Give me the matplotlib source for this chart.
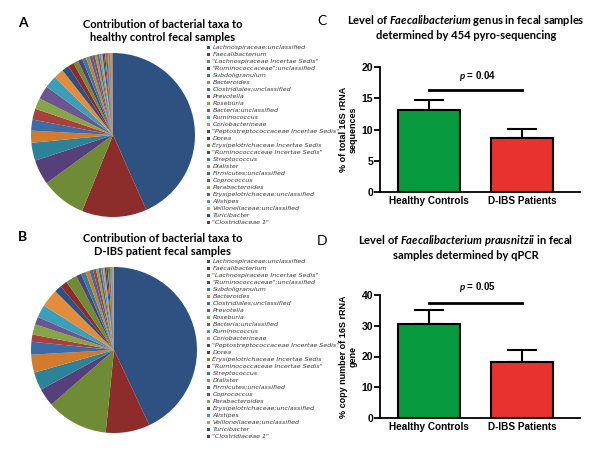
import matplotlib
matplotlib.use("Agg")
import matplotlib.pyplot as plt
from matplotlib.patches import Rectangle

# ---- data ----
taxa = [
    'Lachnospiraceae;unclassified', 'Faecalibacterium',
    '"Lachnospiraceae Incertae Sedis"', '"Ruminococcaceae";unclassified',
    'Subdoligranulum', 'Bacteroides', 'Clostridiales;unclassified',
    'Prevotella', 'Roseburia', 'Bacteria;unclassified', 'Ruminococcus',
    'Coriobacterineae', '"Peptostreptococcaceae Incertae Sedis"', 'Dorea',
    'Erysipelotrichaceae Incertae Sedis', '"Ruminococcaceae Incertae Sedis"',
    'Streptococcus', 'Dialister', 'Firmicutes;unclassified', 'Coprococcus',
    'Parabacteroides', 'Erysipelotrichaceae;unclassified', 'Alistipes',
    'Veillonellaceae;unclassified', 'Turicibacter', '"Clostridiaceae 1"',
]
# named taxa, then the unlabeled minor taxa in the thin slices
healthy_pct = [44.0, 13.0, 9.0, 5.0, 3.6, 2.4, 2.2, 2.2, 2.2, 2.7, 2.5, 2.0,
               1.4, 1.2, 1.0, 0.9, 0.8, 0.7, 0.6, 0.5, 0.45, 0.4, 0.35, 0.3,
               0.3, 0.25,
               0.2, 0.2, 0.18, 0.16, 0.15, 0.14, 0.12, 0.1, 0.1, 0.08, 0.08, 0.06]
dibs_pct = [43.0, 8.6, 12.0, 3.5, 3.5, 3.5, 2.5, 1.4, 2.0, 1.5, 2.5, 3.5,
            1.4, 1.4, 2.2, 1.0, 0.9, 0.8, 0.7, 0.6, 0.5, 0.45, 0.4, 0.35,
            0.3, 0.3,
            0.2, 0.18, 0.16, 0.15, 0.12, 0.1, 0.1, 0.08, 0.06, 0.05]

groups = ['Healthy Controls', 'D-IBS Patients']
pyro_mean = [13.2, 8.6]
pyro_err = [1.5, 1.5]
qpcr_mean = [30.5, 18.2]
qpcr_err = [4.7, 3.8]

palette = ['#2E5182', '#8C2D2B', '#6F8B35', '#55407A', '#2C8299', '#D27A2E',
           '#3C6CA6', '#A8403C', '#87A546', '#6B5690', '#3C9EB8', '#E38C3C']

plt.rcParams['font.family'] = ['Lato', 'DejaVu Sans']
plt.rcParams['mathtext.fontset'] = 'custom'
plt.rcParams['mathtext.rm'] = 'Lato:bold'
plt.rcParams['mathtext.it'] = 'Lato:bold:italic'

fig = plt.figure(figsize=(6, 4.59), dpi=100)
W, H = 600.0, 459.0


def px_axes(x0, y0, x1, y1):
    return fig.add_axes([x0 / W, 1 - y1 / H, (x1 - x0) / W, (y1 - y0) / H])


def pie_panel(cx, cy, r, vals, title, letter, ly):
    ax = px_axes(cx - r, cy - r, cx + r, cy + r)
    cols = [palette[i % len(palette)] for i in range(len(vals))]
    wedges, _ = ax.pie(vals, colors=cols, startangle=90, counterclock=False,
                       wedgeprops=dict(linewidth=0))
    ax.set_xlim(-1, 1)
    ax.set_ylim(-1, 1)
    fig.text(163 / W, 1 - (cy - r - 22) / H, title, ha='center', va='center',
             fontsize=8, fontweight='bold', linespacing=1.25)
    fig.text(18 / W, 1 - (cy - r - 30) / H, letter, ha='left', va='center',
             fontsize=10, fontweight='bold')
    # legend: one row per named taxon, 7 px apart
    for i, name in enumerate(taxa):
        yc = ly + 7.0 * i
        fig.patches.append(Rectangle((207 / W, 1 - (yc + 1.6) / H),
                                     3.2 / W, 3.2 / H,
                                     facecolor=wedges[i].get_facecolor(),
                                     transform=fig.transFigure, lw=0))
        fig.text(212.5 / W, 1 - yc / H, name, ha='left', va='center',
                 fontsize=4.6, style='italic', family='DejaVu Sans',
                 color='#3a3a3a')


pie_panel(113, 135, 82, healthy_pct,
          'Contribution of bacterial taxa to\nhealthy control fecal samples',
          'A', 47.5)
pie_panel(114, 350, 83, dibs_pct,
          'Contribution of bacterial taxa to\nD-IBS patient fecal samples',
          'B', 261.5)


def bar_panel(y0, y1, means, errs, ymax, step, ylabel, sig_y, p_y, p_txt,
              title, letter, ty):
    ax = px_axes(380, y0, 580, y1)
    xs = range(len(groups))
    ax.bar(xs, means, width=0.667, color=['#079A3F', '#E8322E'],
           edgecolor='black', linewidth=1.5, zorder=2)
    ax.errorbar(xs, means, yerr=[[0, 0], errs], fmt='none', ecolor='black',
                elinewidth=1.5, capsize=10.5, capthick=1.5, zorder=1)
    ax.set_xlim(-0.53, 1.62)
    ax.set_ylim(0, ymax)
    ax.set_yticks(range(0, ymax + 1, step))
    ax.set_xticks(list(xs))
    ax.set_xticklabels(groups)
    for s in ['top', 'right']:
        ax.spines[s].set_visible(False)
    for s in ['left', 'bottom']:
        ax.spines[s].set_linewidth(1.3)
    ax.tick_params(axis='y', length=4, width=1.3, direction='out', pad=1)
    ax.tick_params(axis='x', length=0, pad=3)
    for lab in ax.get_yticklabels() + ax.get_xticklabels():
        lab.set_family('Liberation Sans')
        lab.set_fontweight('bold')
    for lab in ax.get_yticklabels():
        lab.set_fontsize(7.5)
    for lab in ax.get_xticklabels():
        lab.set_fontsize(7.2)
    ax.set_ylabel(ylabel, family='Liberation Sans', fontweight='bold',
                  fontsize=6.5, linespacing=1.1, labelpad=3)
    ax.plot([0, 1], [sig_y, sig_y], color='black', linewidth=2,
            clip_on=False)
    ax.text(0.52, p_y, p_txt, ha='center', va='center', fontsize=7,
            family='Liberation Sans', fontweight='bold', clip_on=False)
    fig.text(466 / W, 1 - ty / H, title, ha='center', va='center',
             fontsize=8, fontweight='bold', linespacing=1.3)
    fig.text(317 / W, 1 - (ty - 6) / H, letter, ha='left', va='center',
             fontsize=10)


bar_panel(67, 192, pyro_mean, pyro_err, 20, 5,
          '% of total 16S rRNA\nsequences', 16.4, 18.6, r'$p$ = 0.04',
          'Level of $\\mathit{Faecalibacterium}$ genus in fecal samples\n'
          'determined by 454 pyro-sequencing', 'C', 27)
bar_panel(295, 418, qpcr_mean, qpcr_err, 40, 10,
          '% copy number of 16S rRNA\ngene', 37.5, 42.5, r'$p$ = 0.05',
          'Level of $\\mathit{Faecalibacterium\\ prausnitzii}$ in fecal\n'
          'samples determined by qPCR', 'D', 247)

fig.savefig('out.png', dpi=100)
